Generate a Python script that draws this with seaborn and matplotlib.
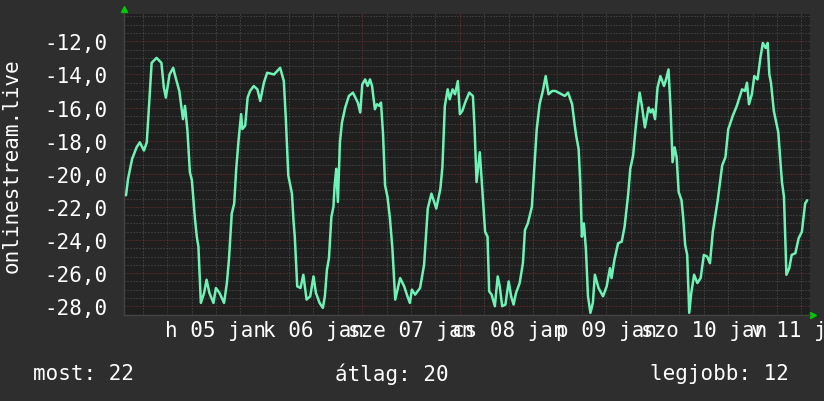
"""rrdtool-style weekly graph of onlinestream.live, redone with seaborn"""
import numpy as np
import pandas as pd
import seaborn as sns
import matplotlib.pyplot as plt

sns.set_theme(style="dark")
plt.rcParams["font.family"] = ["DejaVu Sans Mono", "DejaVu Sans"]

# hours since 2015-01-05 00:00 (monday) and the value read at that time
HOURS = [
    -10.1, -9.6, -8.6, -7.5, -6.7, -5.7, -5.0, -4.3, -3.8, -2.6, -1.4, -0.8, -0.3,
    0.6, 1.5, 2.0, 3.0, 3.9, 4.4, 5.0, 5.6, 6.1, 6.8, 7.3, 7.7, 8.3, 9.1, 9.7,
    10.4, 11.4, 12.0, 12.9, 14.0, 14.7, 15.2, 15.9, 16.5, 17.0, 17.6, 18.2, 18.5,
    19.2, 19.8, 20.4, 21.3, 22.2, 22.9, 23.8, 24.6, 26.3, 27.8, 28.7, 29.2, 29.8,
    30.7, 31.1, 31.4, 32.0, 32.8, 33.5, 34.3, 35.2, 36.0, 36.6, 37.5, 38.3, 38.8,
    39.3, 39.8, 40.4, 40.9, 41.2, 41.6, 42.0, 42.5, 43.0, 43.8, 44.7, 45.7, 46.9,
    47.5, 48.0, 48.7, 49.3, 49.9, 50.4, 51.1, 51.6, 52.2, 52.6,
    53.1, 53.6, 54.2, 54.8, 55.4, 56.1, 57.3, 58.3, 59.1, 59.7, 60.2, 61.0, 62.2,
    63.2, 64.1, 65.0, 66.2, 67.2, 67.7, 68.3, 69.0, 69.5, 70.2, 70.8, 71.5, 72.0,
    72.6, 73.3, 74.3, 75.2, 75.6, 76.1, 76.9, 77.6, 78.2, 78.8, 79.2, 79.8, 80.6,
    81.3, 81.8, 82.4, 83.2, 84.0, 84.6, 85.2, 85.8, 86.7, 87.5, 88.0, 88.7, 89.7,
    90.9, 91.6, 92.4, 93.1, 93.8, 94.7, 95.5, 97.8, 98.6, 99.6, 100.2, 100.6,
    101.2, 101.6, 102.0, 102.5, 103.0, 103.5, 104.1, 104.7, 105.2, 106.1, 107.2,
    108.1, 108.9, 109.3, 110.0, 110.9, 111.8, 112.5, 113.4, 113.9, 114.6, 115.2,
    115.8, 116.2, 116.7, 117.5, 118.4, 118.9, 119.4, 120.0, 120.6, 121.3, 122.2,
    122.7, 123.3, 123.8, 124.3, 124.8, 125.3, 125.8, 126.5, 126.9, 127.4, 127.9,
    128.4, 128.9, 129.6, 130.4, 131.2, 132.0, 132.8, 133.5, 134.2, 135.4, 136.5,
    137.3, 138.0, 138.3, 139.1, 140.1, 141.4, 142.1, 142.6, 143.1, 143.8, 144.4,
    145.2, 145.9, 146.5, 147.2, 147.7, 148.1, 148.5, 149.2, 150.3, 151.2, 151.7,
    152.3, 153.0, 153.6, 154.5, 155.3, 156.1, 156.9, 157.4,
]
VALUES = [
    -21.3, -20.3, -19.1, -18.4, -18.1, -18.6, -18.1, -15.3, -13.3, -13.0, -13.3, -14.8, -15.4,
    -14.0, -13.6, -14.1, -15.0, -16.7, -15.9, -17.4, -19.9, -20.4, -22.6, -23.8, -24.4, -27.8, -27.2, -26.4,
    -27.2, -27.8, -26.9, -27.2, -27.8, -26.6, -25.2, -22.4, -21.8, -19.7, -17.9, -16.4, -17.3,
    -17.1, -15.4, -15.0, -14.7, -14.9, -15.6, -14.5, -13.9, -14.0, -13.6, -14.4, -16.7, -20.1,
    -21.2, -22.9, -23.8, -26.8, -26.9, -26.1, -27.6, -27.4, -26.2, -27.2, -27.8, -28.1, -27.4,
    -25.8, -25.1, -22.6, -22.0, -20.7, -19.7, -21.7, -18.1, -16.9, -16.0, -15.3, -15.1, -15.7,
    -16.3, -14.6, -14.3, -14.7, -14.3, -14.7, -16.1, -15.8, -15.9, -15.7,
    -17.6, -20.7, -21.4, -22.7, -24.5, -27.6, -26.3, -26.8, -27.4, -27.8, -27.0, -27.3, -26.9,
    -25.5, -22.1, -21.2, -22.1, -20.9, -19.6, -15.9, -14.9, -15.5, -14.9, -15.2, -14.4, -16.4,
    -16.2, -15.7, -15.1, -15.3, -17.2, -20.5, -18.7, -21.3, -23.5, -23.8, -27.1, -27.3, -28.0,
    -26.2, -26.8, -28.0, -27.9, -26.5, -27.4, -27.9, -27.2, -26.6, -25.4, -23.4, -23.0, -22.0,
    -17.3, -15.8, -15.0, -14.1, -15.2, -15.0, -15.0, -15.3, -15.1, -15.8, -17.0, -17.7,
    -18.5, -20.5, -23.8, -23.0, -24.6, -27.4, -28.4, -27.8, -26.1, -26.9, -27.4,
    -26.8, -25.7, -26.3, -25.2, -24.2, -24.1, -23.2, -21.2, -19.7, -18.9, -17.3,
    -15.9, -15.1, -15.8, -17.2, -16.0, -16.3, -16.1, -16.7, -14.8, -14.1, -14.7,
    -14.3, -13.7, -16.0, -19.3, -18.4, -19.0, -21.1, -21.6, -22.6, -24.3, -24.9,
    -28.4, -27.2, -26.1, -26.6, -26.3, -24.9, -25.0, -25.4, -23.5, -21.6, -19.5,
    -19.0, -17.3, -17.1, -16.5, -15.9, -14.9, -15.0, -14.5, -15.8, -15.2, -14.1,
    -14.3, -13.0, -12.1, -12.4, -12.1, -14.0, -14.5, -16.2, -17.5, -20.5, -21.4,
    -26.1, -25.7, -24.9, -24.8, -23.9, -23.5, -21.8, -21.6,
]

DAY_LABELS = ["h 05 jan", "k 06 jan", "sze 07 jan", "cs 08 jan",
              "p 09 jan", "szo 10 jan", "v 11 jan"]
LEGEND = [("most: 22", 33), ("átlag: 20", 335), ("legjobb: 12", 650)]  # text, left px

YLABEL = "onlinestream.live"

df = pd.DataFrame({"hours": HOURS, "value": VALUES})

BG = "#2e2e2e"
CANVAS = "#1f1f1f"
LINE = "#6ef2b6"
MAJOR = "#7a3232"
MINOR = "#555555"
FONT = 15

W, H = 824, 402
fig = plt.figure(figsize=(W / 100, H / 100), dpi=100, facecolor=BG)
ax = fig.add_axes([124 / W, 1 - 316 / H, (810 - 124) / W, (316 - 15) / H])
ax.set_facecolor(CANVAS)

sns.lineplot(data=df, x="hours", y="value", color=LINE, linewidth=1.8,
             ax=ax, zorder=3)

ax.set_xlim(-10.6, 158.1)
ax.set_ylim(-28.53, -10.35)

ax.xaxis.set(major_locator=plt.MultipleLocator(24),
             minor_locator=plt.MultipleLocator(6))
ax.yaxis.set(major_locator=plt.FixedLocator(np.arange(-28, -11, 2)),
             minor_locator=plt.MultipleLocator(0.5))
ax.grid(which="minor", color=MINOR, linewidth=0.72, linestyle=(0, (1, 2)))
ax.grid(which="major", color=MAJOR, linewidth=0.72, linestyle=(0, (1, 2)))

ax.set_xticklabels([])
ax.yaxis.set_major_formatter(lambda v, pos: f"{v:.1f}".replace(".", ","))
ax.tick_params(which="both", length=0)
ax.tick_params(axis="y", colors="white", labelsize=FONT, pad=12)
ax.set_xlabel("")
ax.set_ylabel("")

for side in ["top", "right"]:
    ax.spines[side].set_visible(False)
for side in ["left", "bottom"]:
    ax.spines[side].set_color("#444444")
    ax.spines[side].set_linewidth(1)

# day labels sit in the middle of each day, rrdtool style (they overlap)
for i, lab in enumerate(DAY_LABELS):
    ax.text(12 + 24 * i, -0.015, lab, transform=ax.get_xaxis_transform(),
            ha="center", va="top", color="white", fontsize=FONT, clip_on=False)

fig.text(12 / W, 0.5 * ((1 - 316 / H) + (1 - 15 / H)), YLABEL, rotation=90,
         ha="center", va="center", color="white", fontsize=FONT)

for txt, left in LEGEND:
    fig.text(left / W, 1 - 374 / H, txt, ha="left", va="center",
             color="white", fontsize=FONT)

# the little green arrows at the axis ends
ax.plot([0], [1 + 5 / 301], marker="^", color="#00c800", markersize=5,
        transform=ax.transAxes, clip_on=False)
ax.plot([1 + 3 / 686], [0], marker=">", color="#00c800", markersize=5,
        transform=ax.transAxes, clip_on=False)

plt.savefig("out.png", dpi=100, facecolor=BG)
plt.close()
